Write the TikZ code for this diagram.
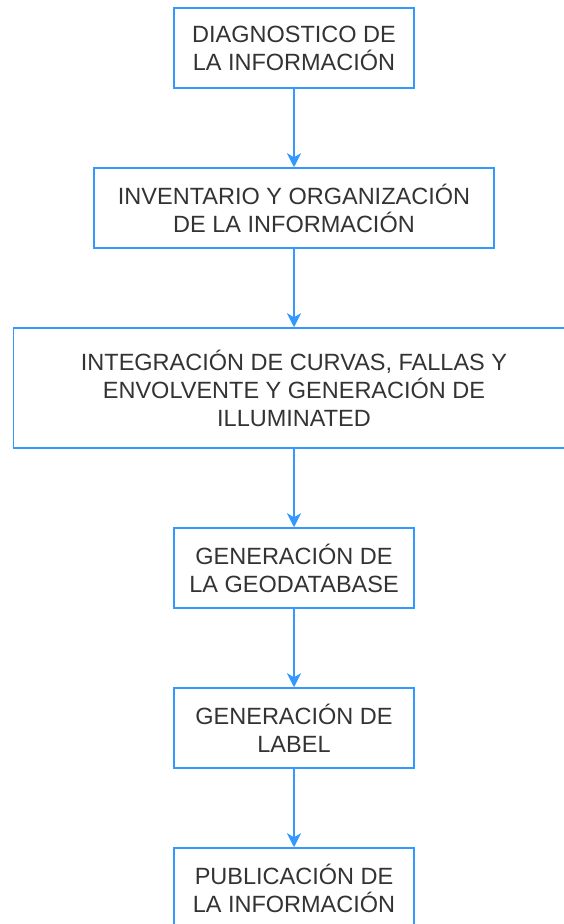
\documentclass[tikz,border=0pt]{standalone}
\usepackage{fontspec}
\setmainfont{Liberation Sans}
\usetikzlibrary{arrows.meta}
\definecolor{flowblue}{RGB}{51,153,255}
\definecolor{textgray}{RGB}{51,51,51}
\tikzset{flowarrow/.style={-{Stealth[length=14pt,width=14pt,inset=4pt]}, flowblue, line width=1.5pt}}
\tikzset{stepbox/.style={draw=flowblue, line width=1.5pt, fill=white, text=textgray,
  align=center, minimum height=80pt, inner sep=0pt, font=\fontsize{23.5}{28}\selectfont}}

\begin{document}
\begin{tikzpicture}[x=1pt,y=1pt]
\useasboundingbox (0,0) rectangle (563,924);
\node[stepbox, minimum width=240pt] (diag) at (294,876) {DIAGNOSTICO DE\\LA INFORMACIÓN};
\node[stepbox, minimum width=400pt] (inv) at (294,716) {INVENTARIO Y ORGANIZACIÓN\\DE LA INFORMACIÓN};
\node[stepbox, minimum width=561pt, minimum height=120pt] (integ) at (294,536) {INTEGRACIÓN DE CURVAS, FALLAS Y\\ENVOLVENTE Y GENERACIÓN DE\\ILLUMINATED};
\node[stepbox, minimum width=240pt] (geodb) at (294,356) {GENERACIÓN DE\\LA GEODATABASE};
\node[stepbox, minimum width=240pt] (label) at (294,196) {GENERACIÓN DE\\LABEL};
\node[stepbox, minimum width=240pt] (publ) at (294,36) {PUBLICACIÓN DE\\LA INFORMACIÓN};
\draw[flowarrow] (diag) -- (inv);
\draw[flowarrow] (inv) -- (integ);
\draw[flowarrow] (integ) -- (geodb);
\draw[flowarrow] (geodb) -- (label);
\draw[flowarrow] (label) -- (publ);
\end{tikzpicture}
\end{document}
